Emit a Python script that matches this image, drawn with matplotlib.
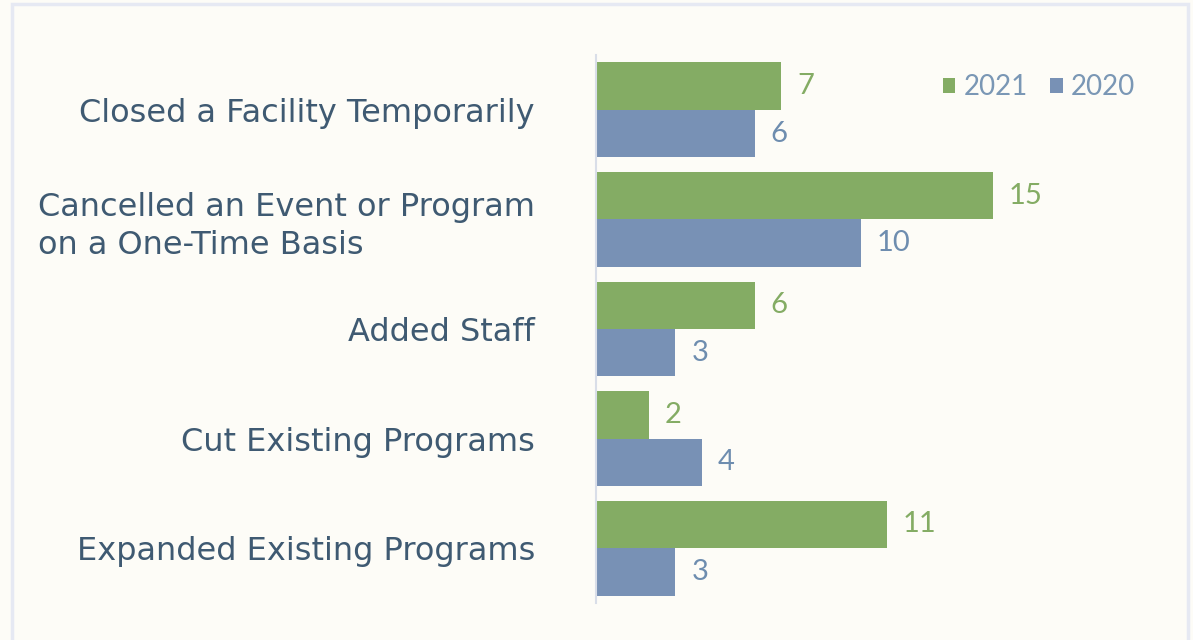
import matplotlib.pyplot as plt
from matplotlib.patches import Rectangle
import numpy as np

categories = [
    "Closed a Facility Temporarily",
    "Cancelled an Event or Program\non a One-Time Basis",
    "Added Staff",
    "Cut Existing Programs",
    "Expanded Existing Programs",
]
vals_2021 = [7, 15, 6, 2, 11]
vals_2020 = [6, 10, 3, 4, 3]
series_names = ["2021", "2020"]

green = "#84AC64"
blue = "#7891B5"
label_col = "#3F5A72"
legend_text = "#7A97B5"
bg = "#FDFCF7"

plt.rcParams['font.family'] = ['DejaVu Sans']

fig = plt.figure(figsize=(11.93, 6.4), dpi=100, facecolor=bg)
fig.patches.append(Rectangle((12/1193, -0.05), 1176/1193, 1.0 - 4/640 + 0.05,
                             transform=fig.transFigure, fill=False,
                             edgecolor="#E6E9F3", linewidth=2.5))

ax = fig.add_axes([596/1193, 37/640, 556/1193, 548/640])
ax.set_facecolor(bg)

y = np.arange(len(categories))
h = 0.433
ax.barh(y - h/2, vals_2021, height=h, color=green, label=series_names[0])
ax.barh(y + h/2, vals_2020, height=h, color=blue, label=series_names[1])

for yy, v in zip(y - h/2, vals_2021):
    ax.text(v + 0.6, yy, str(v), va='center', ha='left', color=green,
            fontsize=21, family='Lato')
for yy, v in zip(y + h/2, vals_2020):
    ax.text(v + 0.6, yy, str(v), va='center', ha='left', color="#6E8DAF",
            fontsize=21, family='Lato')

ax.set_xlim(0, 21)
ax.set_ylim(4.5, -0.5)
ax.set_xticks([])
ax.set_yticks(y)
ax.set_yticklabels(categories, fontsize=23, color=label_col, ha='right',
                   multialignment='left', linespacing=1.3)
ax.tick_params(axis='y', length=0, pad=44)
for t in ax.get_yticklabels():
    t.set_y(t.get_position()[1] - 0.03)

for s in ['top', 'right', 'bottom']:
    ax.spines[s].set_visible(False)
ax.spines['left'].set_color("#D9DEE8")
ax.spines['left'].set_linewidth(1.5)

leg = ax.legend(loc='upper right', bbox_to_anchor=(1.0, 0.995), ncol=2, frameon=False,
                prop={'family': 'Lato', 'size': 20}, handlelength=0.45, handleheight=0.45,
                handletextpad=0.3, columnspacing=0.8, borderaxespad=0.2)
for t in leg.get_texts():
    t.set_color(legend_text)

fig.savefig("out.png", dpi=100, facecolor=bg)
